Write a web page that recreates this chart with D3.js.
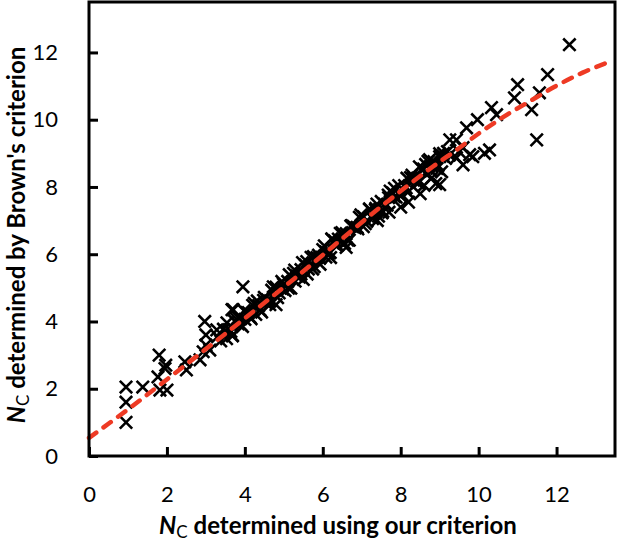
<!DOCTYPE html>
<meta charset="utf-8">
<script src="https://cdn.jsdelivr.net/npm/d3@7"></script>
<style>
    body { margin: 0; background: #fff; font-family: Lato, 'Open Sans', sans-serif; }
    .axis .domain { display: none; }
    .axis text { font-family: Lato, sans-serif; font-size: 22px; fill: #000; }
    .axis line { stroke: #000; stroke-width: 3; }
</style>
<svg width="619" height="544"></svg>
<script>
    // N_C determined using our criterion (x) vs Brown's criterion (y)
    var ourNc = [
        0.95, 0.95, 0.95, 1.38, 1.77, 1.8, 1.97, 2.0, 1.82, 1.95, 2.46, 2.5, 2.97, 3.0, 3.0, 2.93, 2.85, 3.1, 3.28, 3.54, 3.7, 3.95, 3.67,
        3.30, 3.38, 3.45, 3.53, 3.60, 3.68, 3.75, 3.83, 3.90, 3.98, 4.05, 4.13, 4.20, 4.28, 4.35, 4.43, 4.50, 4.58, 4.65, 4.73,
        4.80, 4.88, 4.95, 5.03, 5.10, 5.18, 5.25, 5.33, 5.40, 5.48, 5.55, 5.63, 5.70, 5.78, 5.85, 5.93, 6.00, 6.08, 6.15, 6.23,
        6.30, 6.38, 6.45, 6.53, 6.60, 6.68, 6.75, 6.83, 6.90, 6.98, 7.05, 7.13, 7.20, 7.28, 7.35, 7.43, 7.50, 7.58, 7.65, 7.73,
        7.80, 7.88, 7.95, 8.03, 8.10, 8.18, 8.25, 8.33, 8.40, 8.48, 8.55, 8.63, 8.70, 8.78, 8.85, 8.93, 9.00, 9.08,
        3.64, 3.79, 3.94, 4.09, 4.24, 4.39, 4.54, 4.69, 4.84, 4.99, 5.14, 5.29, 5.44, 5.59, 5.74, 5.89, 6.04, 6.19,
        6.34, 6.49, 6.64, 6.79, 6.94, 7.09, 7.24, 7.39, 7.54, 7.69, 7.84, 7.99, 8.14, 8.29, 8.44, 8.59, 8.74, 8.89,
        3.52, 3.68, 3.84, 4.00, 4.16, 4.32, 4.48, 4.64, 4.80, 4.96, 5.12, 5.28, 5.44, 5.60, 5.76, 5.92, 6.08, 6.24,
        6.40, 6.56, 6.72, 6.88, 7.04, 7.20, 7.36, 7.52, 7.68, 7.84, 8.00, 8.16, 8.32, 8.48, 8.64, 8.80, 8.96,
        7.4, 7.7, 8.0, 8.2, 8.5, 8.6, 8.8, 8.9, 9.0, 9.05, 6.2, 6.6, 5.5, 4.8,
        9.1, 9.15, 9.2, 9.0, 9.25,
        9.26, 9.43, 9.69, 9.97, 10.33, 10.46, 10.15, 10.28, 9.85, 9.77, 9.6, 9.6, 9.43, 9.5,
        10.92, 11.0, 11.36, 11.49, 11.56, 11.77, 12.33
    ];
    var brownNc = [
        1.0, 1.6, 2.05, 2.05, 2.35, 3.0, 2.7, 1.96, 1.96, 2.6, 2.8, 2.56, 4.0, 3.6, 3.3, 3.1, 2.86, 3.15, 3.75, 3.96, 4.35, 5.03, 4.35,
        3.55, 3.42, 3.77, 3.49, 3.76, 3.57, 4.00, 3.93, 3.90, 4.32, 4.26, 4.13, 4.48, 4.21, 4.47, 4.28, 4.72, 4.64, 4.61, 5.03,
        4.97, 4.85, 5.19, 4.92, 5.19, 4.99, 5.43, 5.35, 5.32, 5.75, 5.68, 5.56, 5.91, 5.63, 5.90, 5.70, 6.14, 6.07, 6.03, 6.46,
        6.40, 6.27, 6.62, 6.34, 6.61, 6.42, 6.85, 6.78, 6.75, 7.17, 7.11, 6.98, 7.33, 7.06, 7.32, 7.13, 7.57, 7.49, 7.46, 7.88,
        7.82, 7.70, 8.04, 7.77, 8.04, 7.84, 8.28, 8.20, 8.17, 8.60, 8.53, 8.41, 8.76, 8.48, 8.75, 8.55, 8.99, 8.92,
        3.70, 4.07, 3.85, 4.26, 4.54, 4.34, 4.55, 4.93, 4.71, 5.11, 5.39, 5.20, 5.41, 5.78, 5.56, 5.97, 6.25, 6.05,
        6.26, 6.64, 6.42, 6.82, 7.10, 6.91, 7.12, 7.49, 7.27, 7.68, 7.96, 7.76, 7.97, 8.35, 8.13, 8.53, 8.81, 8.62,
        3.71, 3.59, 4.11, 4.06, 4.08, 4.61, 4.63, 4.50, 5.02, 4.97, 4.99, 5.53, 5.54, 5.41, 5.93, 5.88, 5.91, 6.44,
        6.45, 6.32, 6.84, 6.80, 6.82, 7.35, 7.36, 7.23, 7.76, 7.71, 7.73, 8.26, 8.27, 8.15, 8.67, 8.62, 8.64,
        7.0, 7.25, 7.4, 7.55, 7.8, 8.05, 8.27, 8.1, 8.07, 8.45, 5.9, 6.2, 5.25, 4.5,
        9.0, 8.85, 9.05, 8.9, 8.95,
        9.4, 9.4, 9.76, 10.0, 10.36, 10.15, 9.0, 9.1, 8.9, 8.96, 8.66, 9.17, 8.87, 9.05,
        10.65, 11.04, 10.3, 9.4, 10.8, 11.34, 12.23
    ];

    // fitted trendline
    var trendX = [0, 1.05, 2.08, 4.05, 5.14, 7.64, 8.82, 9.43, 10.1, 10.8, 11.3, 11.95, 12.67, 13.4];
    var trendY = [0.54, 1.43, 2.35, 4.14, 5.15, 7.55, 8.6, 9.1, 9.67, 10.2, 10.54, 10.98, 11.4, 11.74];

    var ticks = [0, 2, 4, 6, 8, 10, 12];

    var svg = d3.select("svg"),
        plotL = 89, plotR = 615, plotT = 2, plotB = 456;

    var x = d3.scaleLinear().domain([0, 13.5]).range([plotL, plotR]);
    var y = d3.scaleLinear().domain([0, 13.5]).range([plotB, plotT]);

    var g = svg.append("g");

    // markers
    var pts = ourNc.map(function(d, i) { return [d, brownNc[i]]; });
    var s = 6.2;
    g.append("g")
        .selectAll("path")
        .data(pts)
        .enter().append("path")
        .attr("d", function(d) {
            var cx = x(d[0]), cy = y(d[1]);
            return "M" + (cx - s) + "," + (cy - s) + "L" + (cx + s) + "," + (cy + s) +
                "M" + (cx - s) + "," + (cy + s) + "L" + (cx + s) + "," + (cy - s);
        })
        .attr("stroke", "#000")
        .attr("stroke-width", 2.6)
        .attr("fill", "none");

    // trendline
    var line = d3.line()
        .x(function(d) { return x(d[0]); })
        .y(function(d) { return y(d[1]); })
        .curve(d3.curveMonotoneX);
    g.append("path")
        .datum(trendX.map(function(d, i) { return [d, trendY[i]]; }))
        .attr("d", line)
        .attr("fill", "none")
        .attr("stroke", "#ee3a24")
        .attr("stroke-width", 4.5)
        .attr("stroke-linecap", "round")
        .attr("stroke-dasharray", "9,9");

    // axes
    svg.append("g")
        .attr("class", "axis")
        .attr("transform", "translate(0," + plotB + ")")
        .call(d3.axisBottom(x).tickValues(ticks).tickSizeInner(-9).tickSizeOuter(0).tickPadding(30));

    svg.append("g")
        .attr("class", "axis")
        .attr("transform", "translate(" + plotL + ",0)")
        .call(d3.axisLeft(y).tickValues(ticks).tickSizeInner(-9).tickSizeOuter(0).tickPadding(31));

    // frame
    svg.append("rect")
        .attr("x", plotL)
        .attr("y", plotT)
        .attr("width", plotR - plotL)
        .attr("height", plotB - plotT)
        .attr("fill", "none")
        .attr("stroke", "#000")
        .attr("stroke-width", 3);

    // axis titles
    var xt = svg.append("text")
        .attr("x", 338)
        .attr("y", 534)
        .attr("text-anchor", "middle")
        .attr("font-size", 24)
        .attr("font-weight", "bold");
    xt.append("tspan").attr("font-style", "italic").text("N");
    xt.append("tspan").attr("font-size", 17).attr("font-weight", "normal").attr("dy", 4).text("C");
    xt.append("tspan").attr("dy", -4).text(" determined using our criterion");

    var yt = svg.append("text")
        .attr("transform", "translate(25,235) rotate(-90)")
        .attr("text-anchor", "middle")
        .attr("font-size", 24)
        .attr("font-weight", "bold");
    yt.append("tspan").attr("font-style", "italic").text("N");
    yt.append("tspan").attr("font-size", 17).attr("font-weight", "normal").attr("dy", 4).text("C");
    yt.append("tspan").attr("dy", -4).text(" determined by Brown's criterion");
</script>
